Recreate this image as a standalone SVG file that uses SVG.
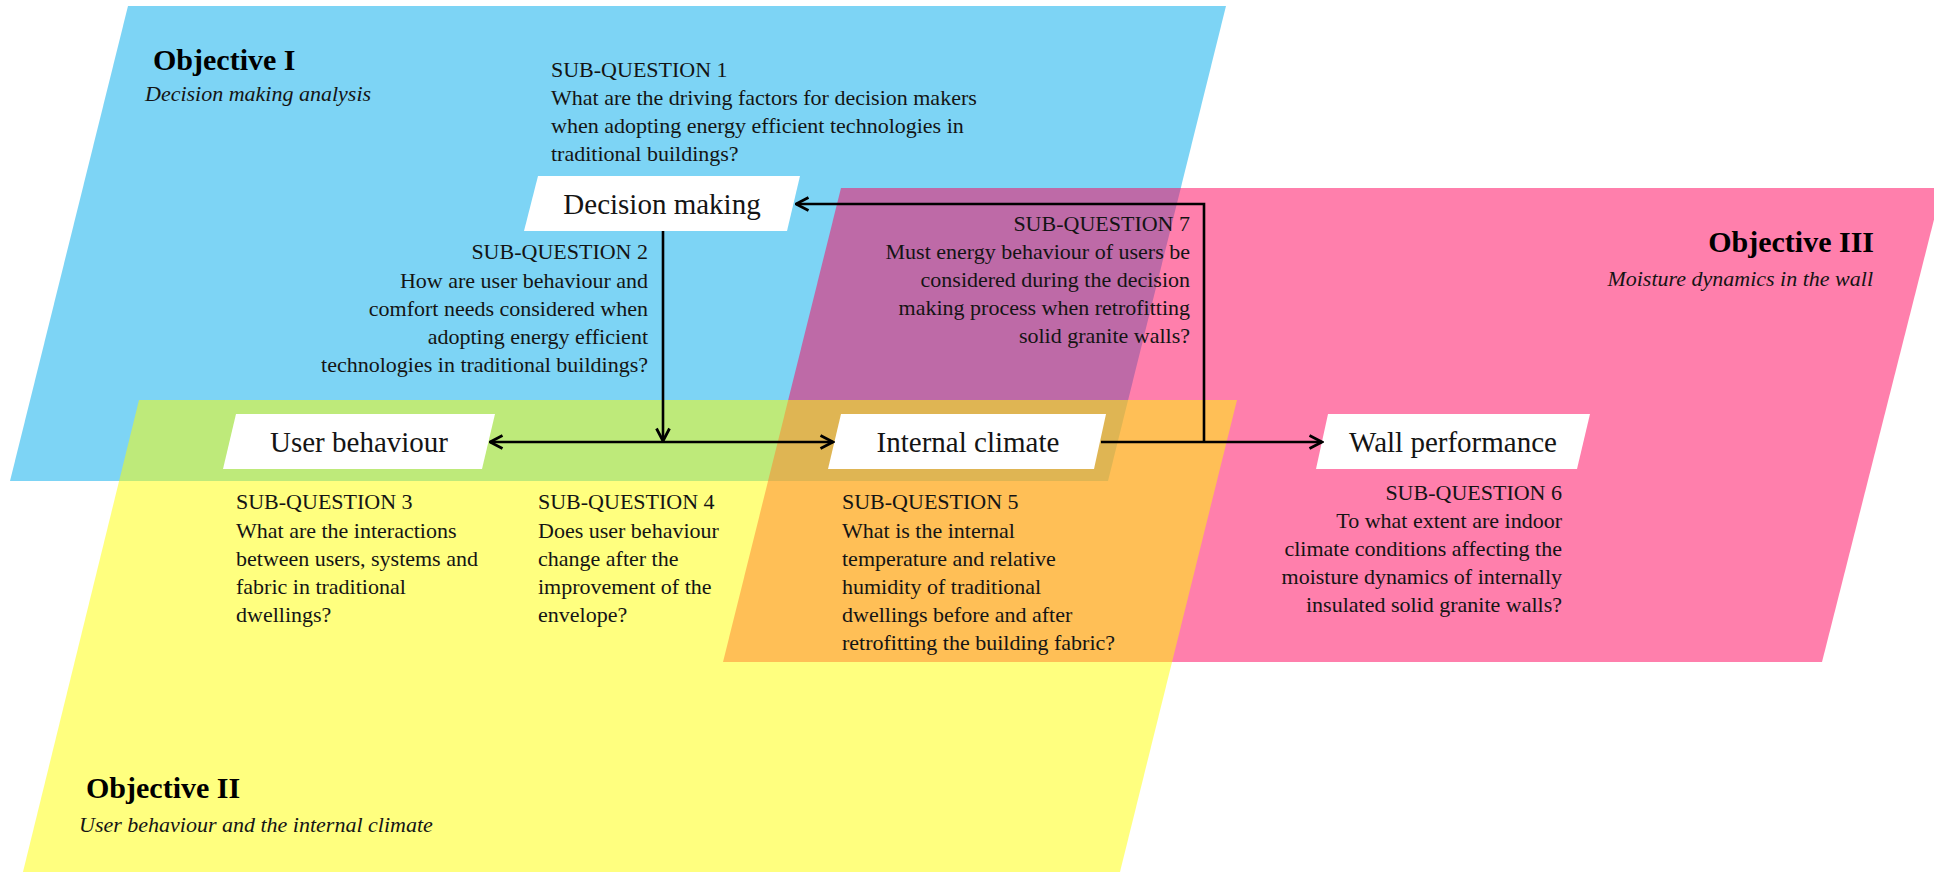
<svg xmlns="http://www.w3.org/2000/svg" width="1934" height="872" viewBox="0 0 1934 872">
  <style>
    .t { font-family: "Liberation Serif", "Times New Roman", serif; fill: #141414; }
    .body { font-size: 22px; }
    .node { font-size: 29px; text-anchor: middle; }
    .obj { font-size: 30px; font-weight: bold; fill: #000; }
    .sub { font-size: 22px; font-style: italic; }
    .r { text-anchor: end; }
    .box { fill: #ffffff; }
    .conn { fill: none; stroke: #000; stroke-width: 2.6; }
  </style>
  <defs>
    <marker id="arrow" viewBox="0 0 16 16" refX="14.5" refY="8" markerWidth="16" markerHeight="16" markerUnits="userSpaceOnUse" orient="auto-start-reverse">
      <path d="M2,1.5 L14.5,8 L2,14.5" fill="none" stroke="#000" stroke-width="2.8"/>
    </marker>
  </defs>

  <rect width="1934" height="872" fill="#ffffff"/>

  <g id="regions">
    <polygon id="region-objective-1" points="128,6 1226,6 1108,481 10,481" fill="#7DD4F5"/>
    <polygon id="region-objective-3" points="841,188 1942,188 1822,662 723,662" fill="#FF005A" fill-opacity="0.5"/>
    <polygon id="region-objective-2" points="139,400 1237,400 1118,880 21,880" fill="#FFFF00" fill-opacity="0.5"/>
  </g>

  <g id="objective-1-label">
    <text class="t obj" x="153" y="70">Objective I</text>
    <text class="t sub" x="145" y="101">Decision making analysis</text>
  </g>
  <g id="objective-2-label">
    <text class="t obj" x="86" y="798">Objective II</text>
    <text class="t sub" x="79" y="832">User behaviour and the internal climate</text>
  </g>
  <g id="objective-3-label">
    <text class="t obj r" x="1874" y="252">Objective III</text>
    <text class="t sub r" x="1873" y="286">Moisture dynamics in the wall</text>
  </g>

  <g id="node-decision-making">
    <polygon class="box" points="538,176 800,176 787,231 524,231"/>
    <text class="t node" x="662" y="214">Decision making</text>
  </g>
  <g id="node-user-behaviour">
    <polygon class="box" points="236,414 495,414 482,469 223,469"/>
    <text class="t node" x="359" y="452">User behaviour</text>
  </g>
  <g id="node-internal-climate">
    <polygon class="box" points="841,414 1106,414 1094,469 828,469"/>
    <text class="t node" x="968" y="452">Internal climate</text>
  </g>
  <g id="node-wall-performance">
    <polygon class="box" points="1328,414 1590,414 1577,469 1316,469"/>
    <text class="t node" x="1453" y="452">Wall performance</text>
  </g>

  <g id="sub-question-1">
    <text class="t body" x="551" y="77">SUB-QUESTION 1</text>
    <text class="t body" x="551" y="105">What are the driving factors for decision makers</text>
    <text class="t body" x="551" y="133">when adopting energy efficient technologies in</text>
    <text class="t body" x="551" y="161">traditional buildings?</text>
  </g>
  <g id="sub-question-2">
    <text class="t body r" x="648" y="259">SUB-QUESTION 2</text>
    <text class="t body r" x="648" y="288">How are user behaviour and</text>
    <text class="t body r" x="648" y="316">comfort needs considered when</text>
    <text class="t body r" x="648" y="344">adopting energy efficient</text>
    <text class="t body r" x="648" y="372">technologies in traditional buildings?</text>
  </g>
  <g id="sub-question-7">
    <text class="t body r" x="1190" y="231">SUB-QUESTION 7</text>
    <text class="t body r" x="1190" y="259">Must energy behaviour of users be</text>
    <text class="t body r" x="1190" y="287">considered during the decision</text>
    <text class="t body r" x="1190" y="315">making process when retrofitting</text>
    <text class="t body r" x="1190" y="343">solid granite walls?</text>
  </g>
  <g id="sub-question-3">
    <text class="t body" x="236" y="509">SUB-QUESTION 3</text>
    <text class="t body" x="236" y="538">What are the interactions</text>
    <text class="t body" x="236" y="566">between users, systems and</text>
    <text class="t body" x="236" y="594">fabric in traditional</text>
    <text class="t body" x="236" y="622">dwellings?</text>
  </g>
  <g id="sub-question-4">
    <text class="t body" x="538" y="509">SUB-QUESTION 4</text>
    <text class="t body" x="538" y="538">Does user behaviour</text>
    <text class="t body" x="538" y="566">change after the</text>
    <text class="t body" x="538" y="594">improvement of the</text>
    <text class="t body" x="538" y="622">envelope?</text>
  </g>
  <g id="sub-question-5">
    <text class="t body" x="842" y="509">SUB-QUESTION 5</text>
    <text class="t body" x="842" y="538">What is the internal</text>
    <text class="t body" x="842" y="566">temperature and relative</text>
    <text class="t body" x="842" y="594">humidity of traditional</text>
    <text class="t body" x="842" y="622">dwellings before and after</text>
    <text class="t body" x="842" y="650">retrofitting the building fabric?</text>
  </g>
  <g id="sub-question-6">
    <text class="t body r" x="1562" y="500">SUB-QUESTION 6</text>
    <text class="t body r" x="1562" y="528">To what extent are indoor</text>
    <text class="t body r" x="1562" y="556">climate conditions affecting the</text>
    <text class="t body r" x="1562" y="584">moisture dynamics of internally</text>
    <text class="t body r" x="1562" y="612">insulated solid granite walls?</text>
  </g>

  <g id="connectors">
    <path class="conn" d="M663,231 V441" marker-end="url(#arrow)"/>
    <path class="conn" d="M490,442 H833" marker-start="url(#arrow)" marker-end="url(#arrow)"/>
    <path class="conn" d="M1101,442 H1322" marker-end="url(#arrow)"/>
    <path class="conn" d="M1204,442 V204 H796" marker-end="url(#arrow)"/>
  </g>
</svg>
